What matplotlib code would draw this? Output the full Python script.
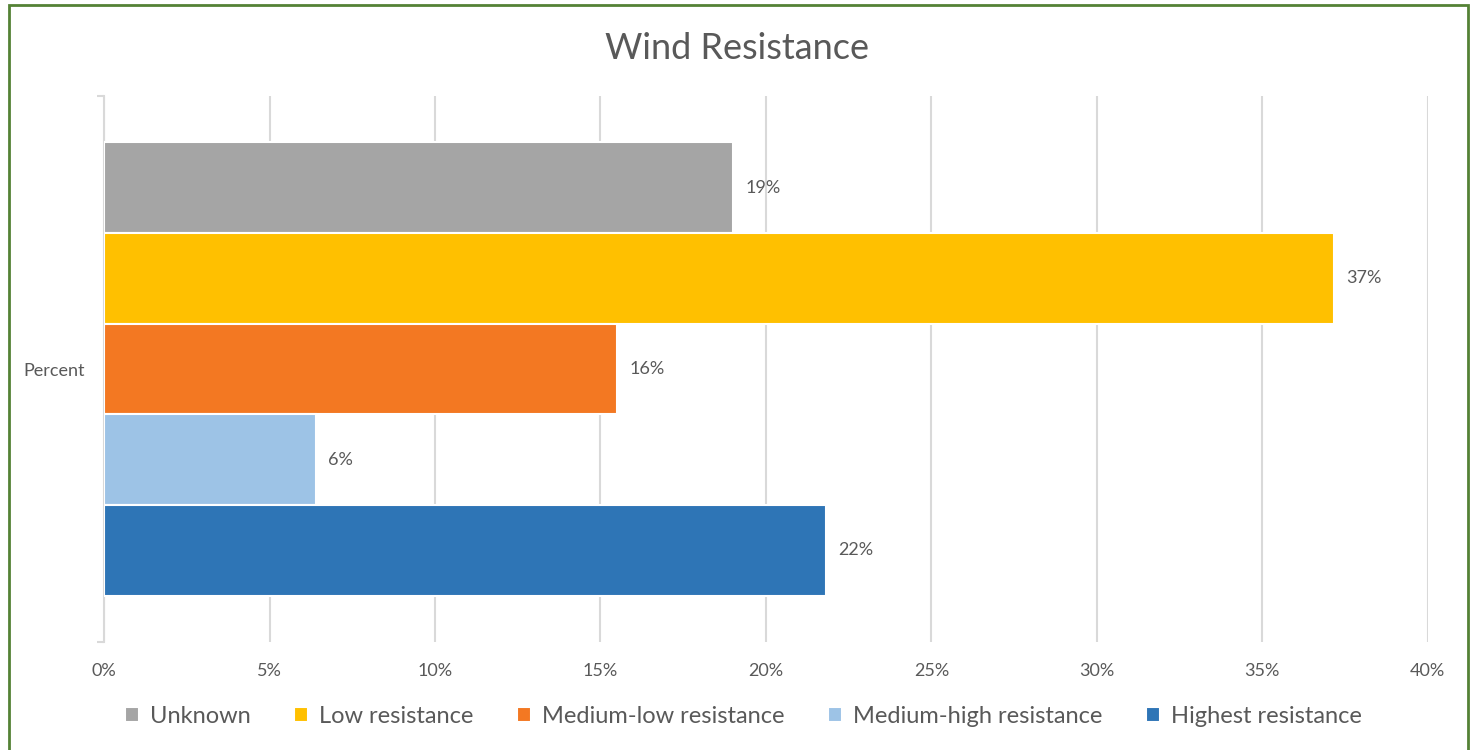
import matplotlib.pyplot as plt
from matplotlib.patches import Rectangle

# dados
categoria = 'Percent'
series = ['Unknown', 'Low resistance', 'Medium-low resistance',
          'Medium-high resistance', 'Highest resistance']
valores = [19.0, 37.15, 15.5, 6.4, 21.8]
rotulos = ['19%', '37%', '16%', '6%', '22%']
cores = ['#A5A5A5', '#FFC000', '#F37822', '#9DC3E6', '#2E75B6']
ticks_x = [0, 5, 10, 15, 20, 25, 30, 35, 40]

plt.rcParams['font.family'] = ['Lato', 'DejaVu Sans']
cinza_texto = '#595959'
cinza_grade = '#D9D9D9'

fig = plt.figure(figsize=(14.72, 7.5), dpi=100)
ax = fig.add_axes([0.0707, 0.144, 0.8993, 0.728])

altura = 0.166
n = len(series)
for i, (nome, v, r, c) in enumerate(zip(series, valores, rotulos, cores)):
    y = ((n - 1) / 2 - i) * altura
    ax.barh(y, v, height=altura, color=c, edgecolor='white', linewidth=1.5,
            label=nome, zorder=3)
    ax.annotate(r, xy=(v, y), xytext=(9, 0), textcoords='offset points',
                ha='left', va='center', fontsize=13, color=cinza_texto)

ax.set_xlim(0, 40)
ax.set_ylim(-0.5, 0.5)
ax.set_xticks(ticks_x)
ax.set_xticklabels([f'{t}%' for t in ticks_x], fontsize=13, color=cinza_texto)
ax.tick_params(axis='x', length=0, pad=15)
ax.xaxis.grid(True, color=cinza_grade, linewidth=1.5, zorder=0)

ax.set_yticks([-0.5, 0.5])
ax.set_yticklabels(['', ''])
ax.tick_params(axis='y', which='major', length=5, color=cinza_grade, width=1.5)
ax.set_yticks([0], minor=True)
ax.set_yticklabels([categoria], minor=True, fontsize=13, color=cinza_texto)
ax.tick_params(axis='y', which='minor', length=0, pad=14)

for lado in ['top', 'right', 'bottom']:
    ax.spines[lado].set_visible(False)
ax.spines['left'].set_color(cinza_grade)
ax.spines['left'].set_linewidth(1.5)

fig.text(0.501, 0.935, 'Wind Resistance', ha='center', va='center',
         fontsize=26, color=cinza_texto)

fig.legend(loc='center', bbox_to_anchor=(0.505, 0.045), ncol=5, frameon=False,
           fontsize=17, handlelength=0.6, handleheight=0.6, handletextpad=0.45,
           columnspacing=1.85, labelcolor=cinza_texto)

# moldura verde
fig.patches.append(Rectangle((0.0061, -0.05), 0.9912, 1.0433,
                             transform=fig.transFigure, fill=False,
                             edgecolor='#548235', linewidth=2))

fig.savefig('out.png', dpi=100)
